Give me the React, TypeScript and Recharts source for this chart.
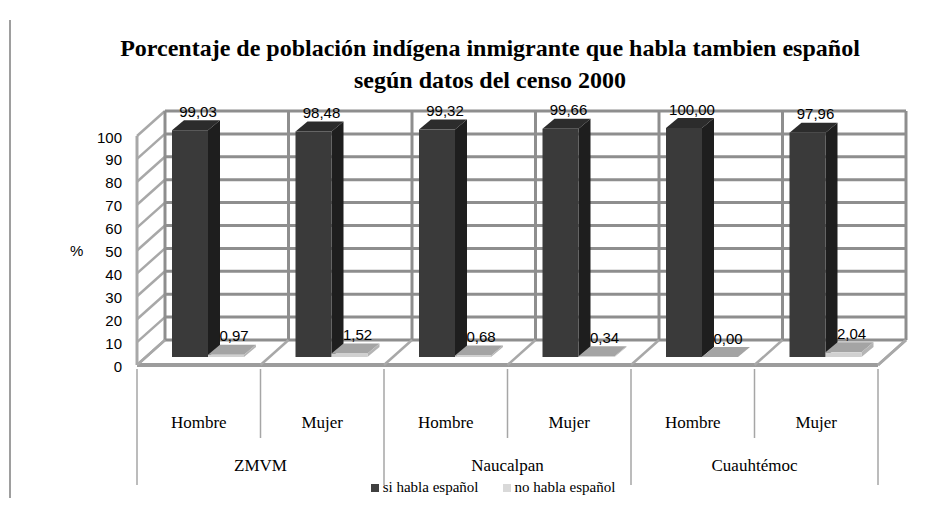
import React from 'react';
import { BarChart, Bar, XAxis, YAxis, CartesianGrid, LabelList } from 'recharts';

const categories = ['Hombre', 'Mujer', 'Hombre', 'Mujer', 'Hombre', 'Mujer'];
const regions = ['ZMVM', 'ZMVM', 'Naucalpan', 'Naucalpan', 'Cuauhtémoc', 'Cuauhtémoc'];
const siHabla = [99.03, 98.48, 99.32, 99.66, 100.0, 97.96];
const noHabla = [0.97, 1.52, 0.68, 0.34, 0.0, 2.04];
const yTicks = [0, 10, 20, 30, 40, 50, 60, 70, 80, 90, 100];
const seriesNames = ['si habla español', 'no habla español'];

const data = categories.map((c, i) => ({
  id: `${regions[i]}-${c}-${i}`,
  si: siHabla[i],
  no: noHabla[i],
}));

const SANS = '"Liberation Sans", Arial, sans-serif';
const SERIF = '"Liberation Serif", "Times New Roman", serif';

// depth of the 3d box (front plane -> back wall)
const DX = 28;
const DY = -25;
// bars sit a bit behind the front plane
const SX = 9;
const SY = -8;
// depth of each bar
const BDX = 12;
const BDY = -10;

const WALL = '#8e8e8e';
const DIAG = '#a8a8a8';

const fmt = (v: number) => v.toFixed(2).replace('.', ',');

const Box3D = (p: any) => {
  const { x, y, width: w, height: h, front, side, top } = p;
  if (x == null || y == null) return null;
  const fx = x + SX;
  const fy = y + SY;
  return (
    <g>
      <polygon
        points={`${fx},${fy} ${fx + w},${fy} ${fx + w + BDX},${fy + BDY} ${fx + BDX},${fy + BDY}`}
        fill={top}
      />
      <polygon
        points={`${fx + w},${fy} ${fx + w + BDX},${fy + BDY} ${fx + w + BDX},${fy + h + BDY} ${fx + w},${fy + h}`}
        fill={side}
      />
      <rect x={fx} y={fy} width={w} height={Math.max(h, 0)} fill={front} />
    </g>
  );
};

const ValueLabel = (p: any) => {
  const { x, y, width: w, value } = p;
  if (x == null || y == null) return null;
  return (
    <text
      x={x + SX + w / 2 + BDX / 2 + 2}
      y={y + SY + BDY - 9}
      textAnchor="middle"
      dominantBaseline="central"
      fontFamily={SANS}
      fontSize={15}
      fill="#000"
    >
      {fmt(Number(value))}
    </text>
  );
};

const HLine = (p: any) => {
  const { x1, y1, x2, index } = p;
  const bottomY = p.y != null && p.height != null ? p.y + p.height : NaN;
  const isBottom = Number.isNaN(bottomY) ? index === 0 : Math.abs(y1 - bottomY) < 0.5;
  return (
    <g key={`h-${index}`}>
      <line x1={x1 + DX} y1={y1 + DY} x2={x2 + DX} y2={y1 + DY} stroke={WALL} strokeWidth={3} />
      <line x1={x1} y1={y1} x2={x1 + DX} y2={y1 + DY} stroke={DIAG} strokeWidth={2.5} />
      {isBottom && (
        <g>
          <line x1={x1} y1={y1} x2={x2} y2={y1} stroke="#9c9c9c" strokeWidth={4} />
          <line x1={x2} y1={y1} x2={x2 + DX} y2={y1 + DY} stroke={DIAG} strokeWidth={3} />
        </g>
      )}
    </g>
  );
};

const VLine = (p: any) => {
  const { x1, y1, y2, index } = p;
  const long = index % 2 === 0;
  return (
    <g key={`v-${index}`}>
      <line x1={x1 + DX} y1={y1 + DY} x2={x1 + DX} y2={y2 + DY} stroke={WALL} strokeWidth={3} />
      <line x1={x1} y1={y2} x2={x1 + DX} y2={y2 + DY} stroke={DIAG} strokeWidth={2.5} />
      {index === 0 && <line x1={x1} y1={y1} x2={x1} y2={y2} stroke={DIAG} strokeWidth={3} />}
      <line x1={x1} y1={y2 + 4} x2={x1} y2={y2 + (long ? 120 : 73)} stroke="#a6a6a6" strokeWidth={1.5} />
    </g>
  );
};

const CatTick = (p: any) => {
  const { x, y, payload, width, visibleTicksCount } = p;
  const i = payload.index;
  const half = payload.offset ? payload.offset : width / (2 * (visibleTicksCount || categories.length));
  return (
    <g>
      <text x={x} y={y + 57} textAnchor="middle" dominantBaseline="central" fontFamily={SERIF} fontSize={17} fill="#000">
        {categories[i]}
      </text>
      {i % 2 === 0 && (
        <text x={x + half} y={y + 100} textAnchor="middle" dominantBaseline="central" fontFamily={SERIF} fontSize={17} fill="#000">
          {regions[i]}
        </text>
      )}
    </g>
  );
};

const ValTick = (p: any) => {
  const { x, y, payload } = p;
  return (
    <text x={x} y={y + 1} textAnchor="end" dominantBaseline="central" fontFamily={SANS} fontSize={15} fill="#000">
      {payload.value}
    </text>
  );
};

const vCoords = (props: any) => {
  const { offset, width } = props;
  const w = offset.width != null ? offset.width : width - offset.left - offset.right;
  return data.map((_, i) => offset.left + (i * w) / data.length).concat(offset.left + w);
};

export default function App() {
  return (
    <div style={{ position: 'absolute', left: 0, top: 0, width: 948, height: 506, background: '#fff' }}>
      <div style={{ position: 'absolute', left: 9, top: 20, width: 2, height: 478, background: '#9e9e9e' }} />
      <div
        style={{
          position: 'absolute',
          left: 0,
          top: 32,
          width: 980,
          textAlign: 'center',
          fontFamily: SERIF,
          fontWeight: 'bold',
          fontSize: 24,
          lineHeight: '32px',
          color: '#000',
        }}
      >
        Porcentaje de población indígena inmigrante que habla tambien español
        <br />
        según datos del censo 2000
      </div>
      <BarChart
        width={948}
        height={506}
        data={data}
        margin={{ top: 136, right: 70, bottom: 0, left: 0 }}
        barSize={36}
        barGap={0}
        style={{ position: 'absolute', left: 0, top: 0 }}
      >
        <CartesianGrid horizontal={HLine} vertical={VLine} verticalCoordinatesGenerator={vCoords} />
        <XAxis dataKey="id" height={141} axisLine={false} tickLine={false} tickSize={0} tickMargin={0} tick={<CatTick />} interval={0} />
        <YAxis
          width={137}
          domain={[0, 100]}
          ticks={yTicks}
          interval={0}
          axisLine={false}
          tickLine={false}
          tickSize={0}
          tickMargin={15}
          tick={<ValTick />}
          label={{ value: '%', position: 'insideLeft', offset: 70, fontFamily: SANS, fontSize: 15, fill: '#000' }}
        />
        <Bar
          dataKey="si"
          name={seriesNames[0]}
          fill="#3a3a3a"
          isAnimationActive={false}
          shape={(p: any) => <Box3D {...p} front="#3a3a3a" side="#1e1e1e" top="#2c2c2c" />}
        >
          <LabelList dataKey="si" content={<ValueLabel />} />
        </Bar>
        <Bar
          dataKey="no"
          name={seriesNames[1]}
          fill="#d9d9d9"
          isAnimationActive={false}
          shape={(p: any) => <Box3D {...p} front="#d0d0d0" side="#b4b4b4" top="#a4a4a4" />}
        >
          <LabelList dataKey="no" content={<ValueLabel />} />
        </Bar>
      </BarChart>
      <div
        style={{
          position: 'absolute',
          left: 38,
          top: 479,
          width: 910,
          display: 'flex',
          justifyContent: 'center',
          alignItems: 'center',
          fontFamily: SERIF,
          fontSize: 15,
          color: '#000',
        }}
      >
        {seriesNames.map((n, i) => (
          <span key={n} style={{ display: 'flex', alignItems: 'center', marginRight: i === 0 ? 24 : 0 }}>
            <span style={{ width: 8, height: 8, background: i === 0 ? '#404040' : '#d9d9d9', marginRight: 4 }} />
            {n}
          </span>
        ))}
      </div>
    </div>
  );
}
